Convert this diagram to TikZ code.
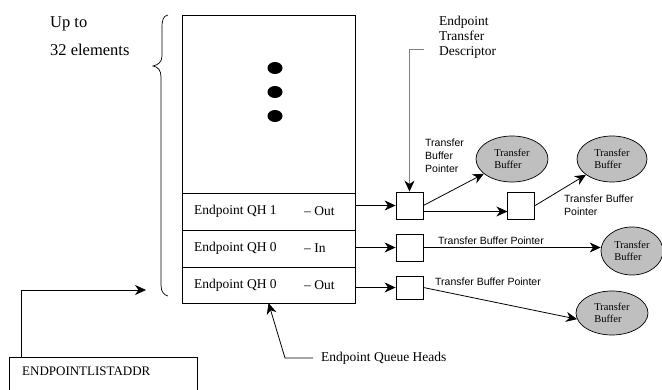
\documentclass[tikz,border=0pt]{standalone}
\usepackage{fontspec}
\setmainfont{Liberation Serif}
\setsansfont{Liberation Sans}
\usetikzlibrary{positioning, arrows.meta, shapes.geometric}

\begin{document}
\begin{tikzpicture}[
    x=1pt, y=-1pt,
    % Rows of the queue head list
    qh_row/.style={draw=black, line width=0.9pt, minimum width=173pt, inner sep=0pt, outer sep=0pt},
    % Small transfer descriptor boxes
    td_box/.style={draw=black, line width=0.8pt, minimum width=27pt, minimum height=27pt, inner sep=0pt},
    % Grey buffers
    buf_ellipse/.style={ellipse, draw=black, line width=0.7pt, fill=black!25, inner sep=0pt, align=left, font=\fontsize{10.5}{12.5}\selectfont},
    dot_mark/.style={ellipse, fill=black, minimum width=15pt, minimum height=12pt, inner sep=0pt},
    row_text/.style={anchor=west, inner sep=0pt, font=\fontsize{13.5}{16}\selectfont},
    big_text/.style={anchor=base west, inner sep=0pt, font=\fontsize{16.5}{20}\selectfont},
    ptr_text/.style={anchor=west, inner sep=0pt, align=left, font=\sffamily\fontsize{10.5}{13}\selectfont},
    % Connection styles
    connection/.style={-{Stealth[length=11pt, width=10pt, inset=3.5pt]}, line width=0.8pt, color=black},
    callout/.style={-{Stealth[length=11pt, width=10pt, inset=3.5pt, color=black]}, line width=0.9pt, draw=black!50}
]
\useasboundingbox (0,0) rectangle (662,390);

    % --- QUEUE HEAD LIST ---
    \node[qh_row, minimum height=178pt] (qhtop) at (268.5,104) {};
    \node[qh_row, minimum height=37pt] (qh1) at (268.5,211.5) {};
    \node[qh_row, minimum height=37pt] (qh0in) at (268.5,248.5) {};
    \node[qh_row, minimum height=36pt] (qh0out) at (268.5,285) {};
    \foreach \y [count=\i] in {68,92,116}
        \node[dot_mark] (dot\i) at (275,\y) {};

    \node[row_text] (qh1a) at ([xshift=12pt]qh1.west) {Endpoint QH 1};
    \node[row_text] (qh1b) at ([xshift=122pt]qh1.west) {-- Out};
    \node[row_text] (qh0ina) at ([xshift=12pt]qh0in.west) {Endpoint QH 0};
    \node[row_text] (qh0inb) at ([xshift=122pt]qh0in.west) {-- In};
    \node[row_text] (qh0outa) at ([xshift=12pt]qh0out.west) {Endpoint QH 0};
    \node[row_text] (qh0outb) at ([xshift=122pt]qh0out.west) {-- Out};

    % --- BRACE ---
    \draw[line width=0.7pt] (168,15) .. controls (163,16) and (162,20) .. (162,28) -- (162,56)
        .. controls (162,62) and (158,65) .. (153,66) .. controls (158,67) and (161,70) .. (161,77)
        -- (161,285) .. controls (161,292) and (164,295) .. (168,296);
    \node[big_text] (upto) at (50,28) {Up to};
    \node[big_text] (elems) at (50,56) {32 elements};

    % --- TRANSFER DESCRIPTORS ---
    \node[td_box] (td1) at (409.5,205.5) {};
    \node[td_box, right=84pt of td1] (td2) {};
    \node[td_box] (td3) at (409.5,247.5) {};
    \node[td_box, minimum height=23pt] (td4) at (409.5,287.5) {};

    % --- BUFFERS ---
    \node[buf_ellipse, minimum width=72pt, minimum height=46pt] (buf1) at (512,159) {Transfer\\Buffer};
    \node[buf_ellipse, minimum width=70pt, minimum height=46pt] (buf2) at (612,159) {Transfer\\Buffer};
    \node[buf_ellipse, minimum width=62pt, minimum height=48pt] (buf3) at (632,251) {Transfer\\Buffer};
    \node[buf_ellipse, minimum width=72pt, minimum height=44pt] (buf4) at (612,313) {Transfer\\Buffer};

    % Connections list -> descriptors -> buffers
    \draw[connection] (qh1.east |- td1.west) -- (td1.west);
    \draw[connection] (qh0in.east |- td3.west) -- (td3.west);
    \draw[connection] (qh0out.east |- td4.west) -- (td4.west);
    \draw[connection] ([yshift=-6pt]td1.east) -- ([yshift=-6pt]td2.west);
    \draw[connection] (td1.east) -- (buf1);
    \draw[connection] (td2.east) -- (buf2);
    \draw[connection] (td3.east) -- (td3.east -| buf3.west);
    \draw[connection] (td4.east) -- (buf4.190);

    % Pointer labels
    \node[ptr_text] (ptr1) at (425,156) {Transfer\\Buffer\\Pointer};
    \node[ptr_text] (ptr2) at (564,205) {Transfer Buffer\\Pointer};
    \node[ptr_text] (ptr3) at (438,241) {Transfer Buffer Pointer};
    \node[ptr_text] (ptr4) at (435,282) {Transfer Buffer Pointer};

    % --- CALLOUTS ---
    \node[row_text, align=left, font=\fontsize{13.5}{15}\selectfont] (etd) at (439,37) {Endpoint\\Transfer\\Descriptor};
    \coordinate (etdc) at (424,49);
    \draw[callout] (etdc) -| (td1.north);

    \node[row_text] (eqh) at (321,358) {Endpoint Queue Heads};
    \draw[connection] ([xshift=-8pt]eqh.west) -- ++(-28,0) -- (qh0out.south);

    % --- LIST ADDRESS REGISTER ---
    \node[draw, line width=0.8pt, minimum width=188pt, minimum height=43pt, anchor=north west, inner sep=0pt] (eladdr) at (9,357) {};
    \node[row_text, font=\fontsize{13}{15}\selectfont] (eltext) at (22,371.5) {ENDPOINTLISTADDR};
    \coordinate (lstend) at (146,290);
    \draw[connection] ([xshift=12pt]eladdr.north west) |- (lstend);

\end{tikzpicture}
\end{document}
